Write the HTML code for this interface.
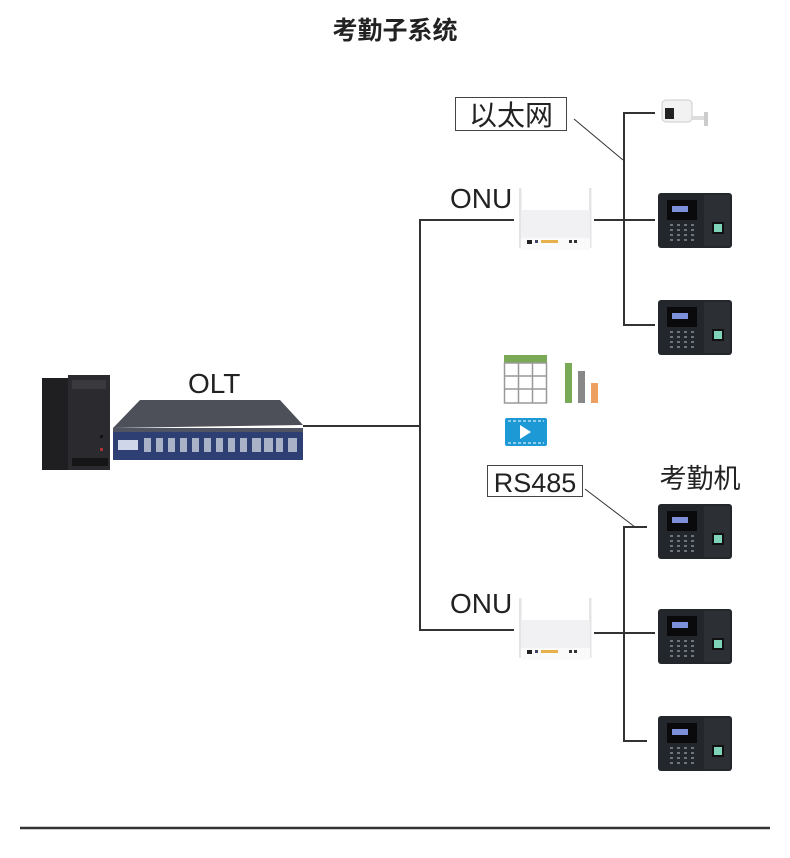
<!DOCTYPE html>
<html><head><meta charset="utf-8"><style>
html,body{margin:0;padding:0;background:#fff;}
svg{display:block;}
text{font-family:"Liberation Sans","Noto Sans CJK SC",sans-serif;}
.cjk{font-family:"Noto Sans CJK SC",sans-serif;}
</style></head><body>
<svg width="790" height="858" viewBox="0 0 790 858" xmlns="http://www.w3.org/2000/svg">
<defs>
<g id="att">
  <rect x="0" y="0" width="74" height="55" rx="3" fill="#23272b"/>
  <rect x="46" y="2" width="26" height="51" fill="#2c3034"/>
  <rect x="9" y="7" width="30" height="20" fill="#0a0a0c"/>
  <rect x="14" y="13" width="16" height="6" fill="#7c8fd8"/>
  <g fill="#6d747a">
    <rect x="12" y="31" width="3" height="2"/><rect x="19" y="31" width="3" height="2"/><rect x="26" y="31" width="3" height="2"/><rect x="33" y="31" width="3" height="2"/>
    <rect x="12" y="36" width="3" height="2"/><rect x="19" y="36" width="3" height="2"/><rect x="26" y="36" width="3" height="2"/><rect x="33" y="36" width="3" height="2"/>
    <rect x="12" y="41" width="3" height="2"/><rect x="19" y="41" width="3" height="2"/><rect x="26" y="41" width="3" height="2"/><rect x="33" y="41" width="3" height="2"/>
    <rect x="12" y="46" width="3" height="2"/><rect x="19" y="46" width="3" height="2"/><rect x="26" y="46" width="3" height="2"/><rect x="33" y="46" width="3" height="2"/>
  </g>
  <rect x="54" y="29" width="12" height="12" fill="#111"/>
  <rect x="56" y="31" width="8" height="8" fill="#7fd3b8"/>
</g>
<g id="onu">
  <rect x="0" y="0" width="2.5" height="60" fill="#e4e4e4"/>
  <rect x="70" y="0" width="2.5" height="60" fill="#e4e4e4"/>
  <rect x="2" y="22" width="69" height="40" fill="#f1f1f3"/>
  <rect x="2" y="50" width="69" height="12" fill="#fafafa"/>
  <rect x="8" y="52" width="5" height="4" fill="#222"/>
  <rect x="16" y="52" width="3" height="3" fill="#446"/>
  <rect x="22" y="52" width="17" height="3" fill="#e8b04a"/>
  <rect x="50" y="52" width="3" height="3" fill="#333"/>
  <rect x="55" y="52" width="3" height="3" fill="#333"/>
</g>
</defs>

<text x="395" y="39" font-size="25" font-weight="bold" text-anchor="middle" fill="#222">考勤子系统</text>

<rect x="42" y="378" width="66" height="92" fill="#1f1f22"/>
<polygon points="68,375 110,375 110,470 68,470" fill="#2b2b2f"/>
<rect x="72" y="380" width="34" height="9" fill="#3a3a3e"/>
<rect x="100" y="435" width="3" height="3" fill="#111"/>
<rect x="100" y="448" width="3" height="3" fill="#a33"/>
<rect x="72" y="458" width="36" height="8" fill="#151517"/>

<text x="188" y="393" font-size="28" fill="#222">OLT</text>
<polygon points="140,400 280,400 303,425 113,428" fill="#4d5058"/>
<rect x="113" y="428" width="190" height="32" fill="#2e3f74"/>
<rect x="113" y="428" width="190" height="4" fill="#505462"/>
<rect x="118" y="440" width="20" height="10" fill="#cfd6ea"/>
<g fill="#aab2c8">
<rect x="144" y="438" width="7" height="14"/><rect x="156" y="438" width="7" height="14"/><rect x="168" y="438" width="7" height="14"/><rect x="180" y="438" width="7" height="14"/><rect x="192" y="438" width="7" height="14"/><rect x="204" y="438" width="7" height="14"/><rect x="216" y="438" width="7" height="14"/><rect x="228" y="438" width="7" height="14"/><rect x="240" y="438" width="7" height="14"/><rect x="252" y="438" width="9" height="14"/><rect x="264" y="438" width="9" height="14"/><rect x="276" y="438" width="7" height="14"/><rect x="288" y="438" width="9" height="14"/>
</g>

<g stroke="#333" stroke-width="2" fill="none">
<line x1="303" y1="426" x2="421" y2="426"/>
<polyline points="514,220 420,220 420,630 514,630"/>
<polyline points="655,113 624,113 624,325 655,325"/>
<line x1="594" y1="220" x2="655" y2="220"/>
<polyline points="647,527 624,527 624,741 647,741"/>
<line x1="594" y1="633" x2="655" y2="633"/>
</g>
<line x1="574" y1="119" x2="623" y2="160" stroke="#333" stroke-width="1"/>
<line x1="585" y1="489" x2="635" y2="527" stroke="#333" stroke-width="1"/>
<line x1="20" y1="828" x2="770" y2="828" stroke="#333" stroke-width="2.5"/>

<rect x="455.5" y="97.5" width="111" height="33" fill="#fff" stroke="#444" stroke-width="1"/>
<text x="511" y="125" font-size="28" text-anchor="middle" fill="#222" class="cjk">以太网</text>
<text x="450" y="208" font-size="28" fill="#222">ONU</text>
<text x="450" y="613" font-size="28" fill="#222">ONU</text>
<rect x="487.5" y="465.5" width="95" height="31" fill="#fff" stroke="#444" stroke-width="1"/>
<text x="535" y="492" font-size="27" text-anchor="middle" fill="#222">RS485</text>
<text x="700" y="488" font-size="27" text-anchor="middle" fill="#222" class="cjk">考勤机</text>

<use href="#onu" x="519" y="188"/>
<use href="#onu" x="519" y="598"/>

<rect x="662" y="100" width="30" height="22" rx="4" fill="#f2f2f2" stroke="#ccc"/>
<rect x="665" y="108" width="9" height="11" fill="#222"/>
<rect x="692" y="116" width="16" height="4" fill="#ddd"/>
<rect x="704" y="112" width="4" height="14" fill="#ccc"/>

<use href="#att" x="658" y="193"/>
<use href="#att" x="658" y="300"/>
<use href="#att" x="658" y="504"/>
<use href="#att" x="658" y="609"/>
<use href="#att" x="658" y="716"/>

<rect x="504" y="355" width="43" height="8" fill="#7aaa55"/>
<g stroke="#999" stroke-width="1.5" fill="none">
<rect x="504.5" y="363" width="42" height="40"/>
<line x1="518.5" y1="363" x2="518.5" y2="403"/><line x1="532.5" y1="363" x2="532.5" y2="403"/>
<line x1="504" y1="376" x2="547" y2="376"/><line x1="504" y1="389" x2="547" y2="389"/>
</g>
<rect x="565" y="363" width="7" height="40" fill="#7aaa55"/>
<rect x="578" y="371" width="7" height="32" fill="#888"/>
<rect x="591" y="383" width="7" height="20" fill="#eea060"/>
<rect x="505" y="418" width="42" height="28" rx="2" fill="#1d9ad6"/>
<line x1="508" y1="421" x2="544" y2="421" stroke="#fff" stroke-dasharray="3,2"/>
<line x1="508" y1="443" x2="544" y2="443" stroke="#fff" stroke-dasharray="3,2"/>
<polygon points="520,425 520,439 531,432" fill="#fff"/>
</svg>
</body></html>
